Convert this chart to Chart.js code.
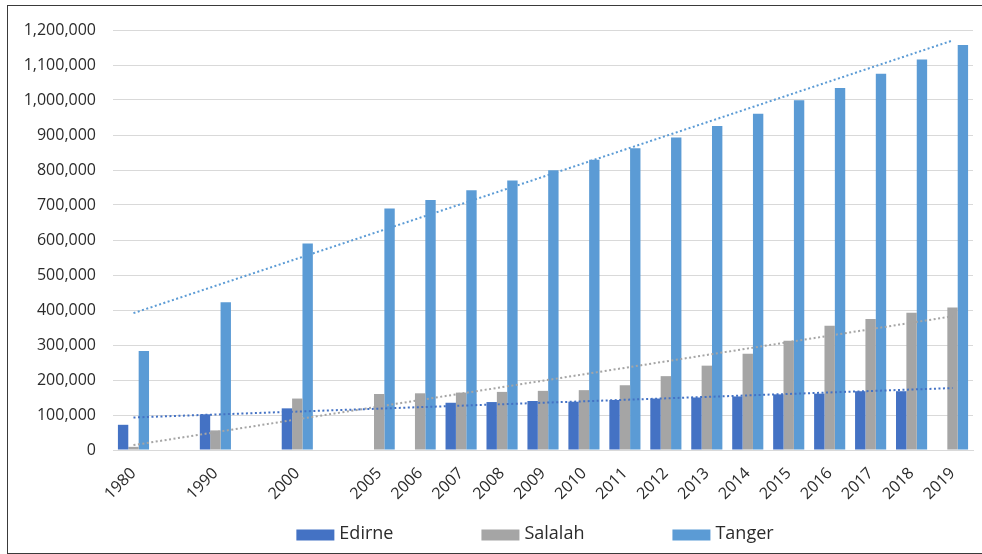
<!DOCTYPE html>
<html>
<head>
<meta charset="utf-8">
<script src="https://cdn.jsdelivr.net/npm/chart.js@4.4.0/dist/chart.umd.min.js"></script>
<style>
    html, body { margin: 0; padding: 0; background: #fff; overflow: hidden; }
    #wrap { position: relative; width: 982px; height: 554px; overflow: hidden; }
    #frame {
        position: absolute; left: 7px; top: 5px; width: 990px; height: 549px;
        border: 1.5px solid #3a3a3a; border-right: none;
        box-sizing: border-box; pointer-events: none;
    }
</style>
</head>
<body>
<div id="wrap">
    <canvas id="chart" width="982" height="554"></canvas>
    <div id="frame"></div>
</div>
<script>
// Categories (blank slots keep the wider gaps between 1980, 1990, 2000 and 2005)
const years = ['1980', '', '1990', '', '2000', '', '2005', '2006', '2007', '2008', '2009',
    '2010', '2011', '2012', '2013', '2014', '2015', '2016', '2017', '2018', '2019'];

const edirne = [72000, null, 102000, null, 119000, null, null, null, 135000, 137000, 140000,
    138000, 143000, 147000, 150000, 153000, 159000, 161000, 168000, 168000, null];
const salalah = [9000, null, 56000, null, 147000, null, 160000, 162000, 164000, 166000, 169000,
    171000, 185000, 211000, 241000, 275000, 312000, 355000, 374000, 392000, 407000];
const tanger = [283000, null, 422000, null, 590000, null, 690000, 714000, 742000, 770000, 799000,
    829000, 862000, 893000, 926000, 961000, 999000, 1034000, 1075000, 1116000, 1157000];

// Linear trendline ends (first and last category)
const trendEnds = ['1980', '2019'];
const edirneTrend = [93000, 177000];
const salalahTrend = [14000, 382000];
const tangerTrend = [391000, 1170000];

const seriesNames = ['Edirne', 'Salalah', 'Tanger'];
const seriesColors = ['#4472C4', '#A5A5A5', '#5B9BD5'];

const yMax = 1200000;
const yStep = 100000;

const FONT = '"Open Sans", "DejaVu Sans", sans-serif';
const TEXT = '#2b2b2b';

function trend(values, color) {
    return {
        type: 'line',
        data: trendEnds.map((x, i) => ({ x: x, y: values[i] })),
        borderColor: color,
        borderWidth: 2,
        borderDash: [2, 2.5],
        pointRadius: 0,
        fill: false,
        order: 0,
        isTrend: true
    };
}

function bars(name, values, color) {
    return {
        type: 'bar',
        label: name,
        data: values,
        backgroundColor: color,
        borderWidth: 0,
        categoryPercentage: 0.76,
        barPercentage: 1.0,
        order: 1
    };
}

// Draws the legend row under the axis labels
const bottomLegend = {
    id: 'bottomLegend',
    afterDraw(chart) {
        const ctx = chart.ctx;
        const items = chart.data.datasets.filter(d => !d.isTrend);
        const boxW = 38, boxH = 11, gapText = 5, gapItem = 88;
        ctx.save();
        ctx.font = '18px ' + FONT;
        ctx.textBaseline = 'middle';
        const widths = items.map(d => boxW + gapText + ctx.measureText(d.label).width);
        const total = widths.reduce((a, b) => a + b, 0) + gapItem * (items.length - 1);
        const area = chart.chartArea;
        let x = (area.left + area.right) / 2 - 8 - total / 2;
        const y = chart.height - 20;
        items.forEach((d, i) => {
            ctx.fillStyle = d.backgroundColor;
            ctx.fillRect(x, y - boxH / 2 + 1, boxW, boxH);
            ctx.fillStyle = TEXT;
            ctx.fillText(d.label, x + boxW + gapText, y);
            x += widths[i] + gapItem;
        });
        ctx.restore();
    }
};

const ctx = document.getElementById('chart').getContext('2d');
new Chart(ctx, {
    data: {
        labels: years,
        datasets: [
            trend(edirneTrend, seriesColors[0]),
            trend(salalahTrend, seriesColors[1]),
            trend(tangerTrend, seriesColors[2]),
            bars(seriesNames[0], edirne, seriesColors[0]),
            bars(seriesNames[1], salalah, seriesColors[1]),
            bars(seriesNames[2], tanger, seriesColors[2])
        ]
    },
    options: {
        responsive: false,
        animation: false,
        layout: {
            padding: { left: 8, right: 9, top: 30, bottom: 35 }
        },
        plugins: {
            legend: { display: false },
            tooltip: { enabled: false }
        },
        scales: {
            x: {
                offset: true,
                grid: { display: false },
                border: { display: true, color: '#d9d9d9', width: 1 },
                ticks: {
                    autoSkip: false,
                    minRotation: 45,
                    maxRotation: 45,
                    padding: 6,
                    color: TEXT,
                    font: { family: FONT, size: 16 }
                },
                afterFit(scale) { scale.height = 69; }
            },
            y: {
                min: 0,
                max: yMax,
                grid: { color: '#d9d9d9', lineWidth: 1, drawTicks: false },
                border: { display: false },
                ticks: {
                    stepSize: yStep,
                    padding: 17,
                    color: TEXT,
                    font: { family: FONT, size: 16 },
                    callback: v => v.toLocaleString('en-US')
                },
                afterFit(scale) { scale.width = 105; }
            }
        }
    },
    plugins: [bottomLegend]
});
</script>
</body>
</html>
